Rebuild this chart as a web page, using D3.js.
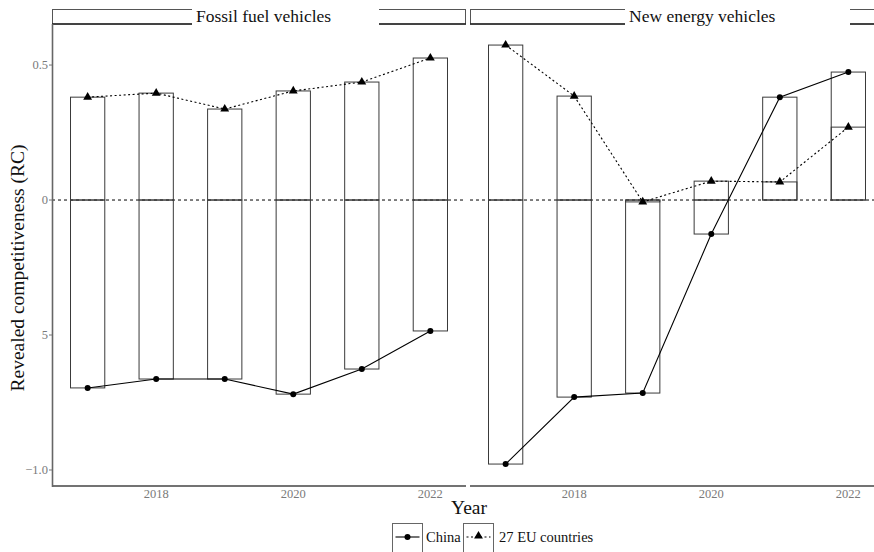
<!DOCTYPE html>
<html>
<head>
<meta charset="utf-8">
<script src="https://cdn.jsdelivr.net/npm/d3@7"></script>
<style>
  html, body { margin: 0; padding: 0; background: #fff; }
  svg { display: block; }
  svg text { font-family: "Liberation Serif", "Times New Roman", serif; }
</style>
</head>
<body>
<svg id="chart" width="874" height="552"></svg>
<script>
// Revealed competitiveness by year, China vs. 27 EU countries
const years = [2017, 2018, 2019, 2020, 2021, 2022];
const panelTitles = ["Fossil fuel vehicles", "New energy vehicles"];
const chinaFossil = [-0.696, -0.663, -0.663, -0.719, -0.626, -0.485];
const euFossil    = [0.381, 0.396, 0.337, 0.404, 0.437, 0.526];
const chinaNEV    = [-0.978, -0.730, -0.715, -0.126, 0.381, 0.474];
const euNEV       = [0.574, 0.385, -0.007, 0.070, 0.067, 0.270];
const xTicks = [2018, 2020, 2022];
const yTicks = [0.5, 0, -0.5, -1.0];
const yTickLabels = ["0.5", "0", "5", "\u22121.0"];
const seriesNames = ["China", "27 EU countries"];

const panels = [
  { title: panelTitles[0], china: chinaFossil, eu: euFossil },
  { title: panelTitles[1], china: chinaNEV, eu: euNEV }
];

const svg = d3.select("#chart");
const panelW = 414;
const panelLeft = [52, 470];
const plotTop = 24, plotBottom = 487;
const stripTop = 9.5;
// gap cut into each strip behind its title
const stripGap = [[192, 379], [625, 850]];

const x = d3.scaleLinear().domain([2016.48, 2022.52]).range([0, panelW]);
const y = d3.scaleLinear().domain([-1.063, 0.652]).range([plotBottom, plotTop]);
const barW = x(2017.5) - x(2017);

panels.forEach((p, i) => {
  const g = svg.append("g").attr("transform", `translate(${panelLeft[i]},0)`);
  const clip = "clip" + i;
  g.append("clipPath").attr("id", clip)
    .append("rect").attr("x", 0).attr("y", 0).attr("width", panelW).attr("height", plotBottom);

  const body = g.append("g").attr("clip-path", `url(#${clip})`);

  // zero reference line
  body.append("line")
    .attr("x1", 0).attr("x2", panelW)
    .attr("y1", y(0)).attr("y2", y(0))
    .attr("stroke", "#000").attr("stroke-width", 1)
    .attr("stroke-dasharray", "3,3");

  // outlined bars, one per series, from zero to the value
  [p.eu, p.china].forEach(vals => {
    body.selectAll(null).data(years).enter().append("rect")
      .attr("x", (d) => x(d) - barW / 2)
      .attr("width", barW)
      .attr("y", (d, j) => y(Math.max(0, vals[j])))
      .attr("height", (d, j) => Math.abs(y(vals[j]) - y(0)))
      .attr("fill", "none")
      .attr("stroke", "#3a3a3a")
      .attr("stroke-width", 1);
  });

  // EU line: dotted with triangles
  const euPts = years.map((yr, j) => [x(yr), y(p.eu[j])]);
  body.append("path")
    .attr("d", d3.line()(euPts))
    .attr("fill", "none").attr("stroke", "#000")
    .attr("stroke-width", 1.1).attr("stroke-dasharray", "2,2.5");
  body.selectAll(null).data(euPts).enter().append("path")
    .attr("d", d3.symbol(d3.symbolTriangle, 34)())
    .attr("transform", d => `translate(${d[0]},${d[1]})`)
    .attr("fill", "#000");

  // China line: solid with circles
  const cnPts = years.map((yr, j) => [x(yr), y(p.china[j])]);
  body.append("path")
    .attr("d", d3.line()(cnPts))
    .attr("fill", "none").attr("stroke", "#000").attr("stroke-width", 1.1);
  body.selectAll(null).data(cnPts).enter().append("circle")
    .attr("cx", d => d[0]).attr("cy", d => d[1]).attr("r", 3)
    .attr("fill", "#000");

  // x axis
  g.append("line")
    .attr("x1", 0).attr("x2", panelW)
    .attr("y1", plotBottom - 1).attr("y2", plotBottom - 1)
    .attr("stroke", "#444").attr("stroke-width", 1.4);
  g.selectAll(null).data(xTicks).enter().append("text")
    .attr("x", d => x(d)).attr("y", plotBottom + 11)
    .attr("text-anchor", "middle")
    .attr("font-size", 12.5).attr("fill", "#7a7a7a")
    .text(d => d);

  // strip with title
  g.append("rect")
    .attr("x", 0.5).attr("y", stripTop)
    .attr("width", panelW - 1).attr("height", plotTop - stripTop)
    .attr("fill", "#fff").attr("stroke", "#555").attr("stroke-width", 1);
  g.append("line")
    .attr("x1", 0).attr("x2", panelW).attr("y1", plotTop).attr("y2", plotTop)
    .attr("stroke", "#222").attr("stroke-width", 1.4);
  g.append("rect")
    .attr("x", stripGap[i][0] - panelLeft[i]).attr("y", 0)
    .attr("width", stripGap[i][1] - stripGap[i][0]).attr("height", plotTop + 2)
    .attr("fill", "#fff");
  g.append("text")
    .attr("x", stripGap[i][0] - panelLeft[i] + 4).attr("y", 22)
    .attr("font-size", 17.5).attr("fill", "#111")
    .text(p.title);
});

// y axis
svg.append("line")
  .attr("x1", 52.5).attr("x2", 52.5).attr("y1", plotTop).attr("y2", plotBottom)
  .attr("stroke", "#666").attr("stroke-width", 1.6);
svg.selectAll(null).data(yTicks).enter().append("line")
  .attr("x1", 49).attr("x2", 52).attr("y1", d => y(d)).attr("y2", d => y(d))
  .attr("stroke", "#777");
svg.selectAll(null).data(yTicks).enter().append("text")
  .attr("x", 48).attr("y", d => y(d) + 4)
  .attr("text-anchor", "end")
  .attr("font-size", 12.5).attr("fill", "#7a7a7a")
  .text((d, i) => yTickLabels[i]);

// axis titles
svg.append("text")
  .attr("transform", "translate(24,268) rotate(-90)")
  .attr("text-anchor", "middle").attr("font-size", 19.5).attr("fill", "#111")
  .text("Revealed competitiveness (RC)");
svg.append("text")
  .attr("x", 469).attr("y", 514)
  .attr("text-anchor", "middle").attr("font-size", 19.5).attr("fill", "#111")
  .text("Year");

// legend
const legend = svg.append("g");
const keys = [
  { name: seriesNames[0], x: 392.5, dash: null, sym: "circle", textX: 426 },
  { name: seriesNames[1], x: 463.5, dash: "2,2.5", sym: "triangle", textX: 499 }
];
keys.forEach(k => {
  legend.append("rect")
    .attr("x", k.x).attr("y", 523.5).attr("width", 30).attr("height", 32)
    .attr("fill", "#fff").attr("stroke", "#666").attr("stroke-width", 1);
  legend.append("line")
    .attr("x1", k.x + 3).attr("x2", k.x + 27).attr("y1", 537).attr("y2", 537)
    .attr("stroke", "#000").attr("stroke-width", 1.1)
    .attr("stroke-dasharray", k.dash);
  if (k.sym === "circle") {
    legend.append("circle").attr("cx", k.x + 15).attr("cy", 537).attr("r", 3).attr("fill", "#000");
  } else {
    legend.append("path")
      .attr("d", d3.symbol(d3.symbolTriangle, 34)())
      .attr("transform", `translate(${k.x + 15},536)`).attr("fill", "#000");
  }
  legend.append("text")
    .attr("x", k.textX).attr("y", 542)
    .attr("font-size", 14.5).attr("fill", "#111")
    .text(k.name);
});
</script>
</body>
</html>
